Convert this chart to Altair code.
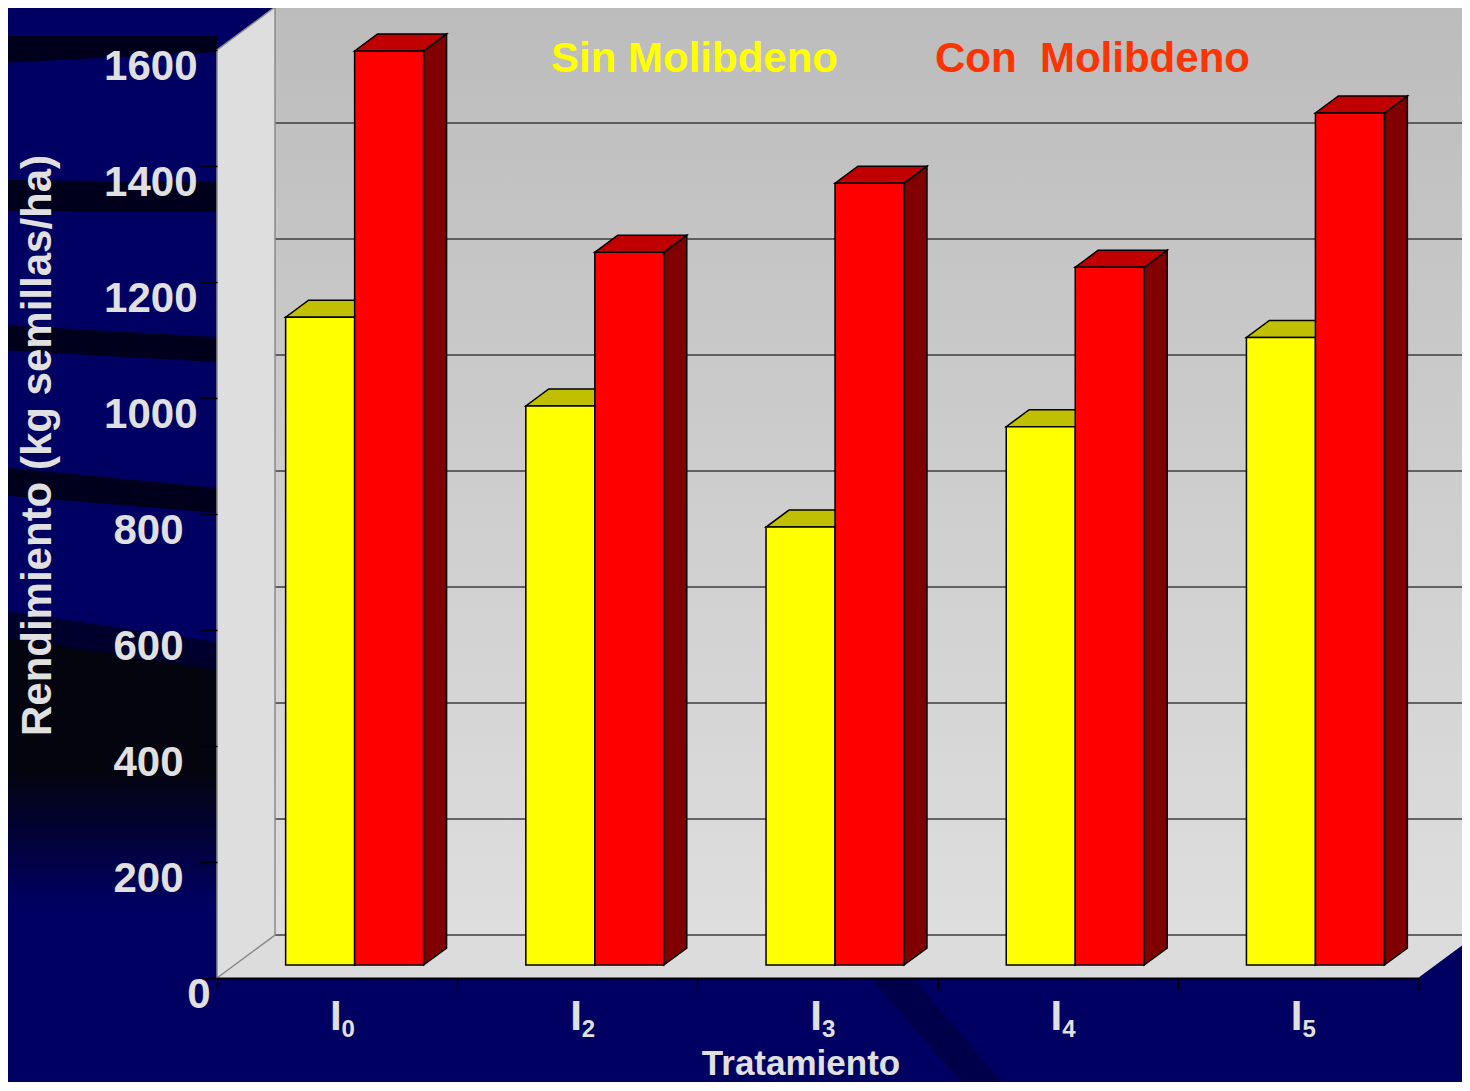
import altair as alt
import pandas as pd

# ---------------- data ----------------
tratamientos = ["I0", "I2", "I3", "I4", "I5"]
letra = ["I", "I", "I", "I", "I"]
subindice = ["0", "2", "3", "4", "5"]
sin_molibdeno = [1117, 964, 755, 928, 1082]
con_molibdeno = [1576, 1229, 1348, 1203, 1469]
marcas_y = [0, 200, 400, 600, 800, 1000, 1200, 1400, 1600]
series = ["Sin Molibdeno", "Con  Molibdeno"]

# ---------------- style / geometry ----------------
PX_U = 240.2          # pixels per category
PX_V = 0.58           # pixels per kg/ha
DX = 58 / PX_U        # full depth of the 3D box (x)
DV = 43 / PX_V        # full depth of the 3D box (y)
F_FRONT = 13 / 43     # bar front position inside the depth
F_DEPTH = 17 / 43     # bar depth
BAR_W = 69 / PX_U
BG = "#000062"
TXT = "#e0e0e0"
FONT = "Liberation Sans"
FACE = [("#ffff00", "#c0c000", "#808000"), ("#ff0000", "#c00000", "#800000")]
N = len(tratamientos)
VMAX = marcas_y[-1]


def u_(px):
    return (px - 217) / PX_U


def v_(py):
    return (978 - py) / PX_V


xs = alt.Scale(domain=[0, N], nice=False, zero=False)
ys = alt.Scale(domain=[0, VMAX], nice=False, zero=False)
xaxis = alt.Axis(values=list(range(N + 1)), labels=False, grid=False, tickSize=12,
                 tickColor="black", tickWidth=1.5, domainColor="black", domainWidth=2,
                 title="Tratamiento", titleFont=FONT, titleFontSize=35, titleFontWeight="bold",
                 titleColor=TXT, titleX=583.5, titleY=96.5, titleAlign="center",
                 titleBaseline="alphabetic", zindex=1)
yaxis = alt.Axis(values=marcas_y, format="d", grid=False, domain=False, tickSize=17,
                 tickColor="#000010", tickWidth=1.5, labelFont=FONT, labelFontSize=42,
                 labelFontWeight="bold", labelColor=TXT,
                 labelPadding={"condition": [{"test": "datum.value >= 1000", "value": 3},
                                             {"test": "datum.value == 0", "value": -10}],
                               "value": 17},
                 labelOffset=16, labelOverlap=False,
                 title="Rendimiento (kg semillas/ha)", titleFont=FONT, titleFontSize=42,
                 titleFontWeight="bold", titleColor=TXT, titleAngle=270, titleX=-167,
                 titleY=395, titleAlign="center", titleBaseline="alphabetic", zindex=1)


def X(f):
    return alt.X(f, type="quantitative", scale=xs, axis=xaxis)


def Y(f):
    return alt.Y(f, type="quantitative", scale=ys, axis=yaxis, stack=False)


# ---------------- background decoration ----------------
bandas = [
    (36, 63, 36, 52, "#00001c"),
    (180, 211, 182, 212, "#00001c"),
    (325, 350, 337, 362, "#00001c"),
    (467, 495, 488, 513, "#00001c"),
    (610, 640, 642, 670, "#00002c"),
]
band_rows = []
for b, (tl, bl, tr, br, col) in enumerate(bandas):
    band_rows.append(dict(id=b, x=u_(0), y=v_(tl), y2=v_(bl), col=col))
    band_rows.append(dict(id=b, x=u_(217), y=v_(tr), y2=v_(br), col=col))
bands = alt.Chart(pd.DataFrame(band_rows)).mark_area(strokeWidth=0).encode(
    x=X("x"), y=Y("y"), y2="y2", detail="id:N", color=alt.Color("col:N", scale=None))

shade = alt.Chart(pd.DataFrame([dict(x=u_(0), y=v_(637), y2=v_(905)),
                                dict(x=u_(217), y=v_(670), y2=v_(905))])).mark_area(
    fill=alt.Gradient(gradient="linear", x1=0, y1=0, x2=0, y2=1,
                      stops=[alt.GradientStop(offset=0, color="#04040f"),
                             alt.GradientStop(offset=0.5, color="#04040f"),
                             alt.GradientStop(offset=1, color=BG)])
).encode(x=X("x"), y=Y("y"), y2="y2")

diag = pd.DataFrame([dict(y=v_(978), x=u_(870), x2=u_(913)),
                     dict(y=v_(1095), x=u_(973), x2=u_(1013))])
diag_band = alt.Chart(diag).mark_area(orient="horizontal", color="#00004a").encode(
    y=Y("y"), x=X("x"), x2="x2")

# ---------------- 3D box ----------------
back = alt.Chart(pd.DataFrame([dict(x=DX, x2=N + DX, y=DV, y2=VMAX + DV)])).mark_rect(
    fill=alt.Gradient(gradient="linear", x1=0, y1=0, x2=0, y2=1,
                      stops=[alt.GradientStop(offset=0, color="#bcbcbc"),
                             alt.GradientStop(offset=1, color="#dedede")])
).encode(x=X("x"), x2="x2", y=Y("y"), y2="y2")

floor = alt.Chart(pd.DataFrame([
    dict(x=0, y=0, y2=0), dict(x=DX, y=0, y2=DV),
    dict(x=N, y=0, y2=DV), dict(x=N + DX, y=DV, y2=DV)])).mark_area(color="#dcdcdc").encode(
    x=X("x"), y=Y("y"), y2="y2")

grid = alt.Chart(pd.DataFrame({"g": marcas_y})).transform_calculate(
    yy=f"datum.g + {DV}", x0=f"{DX}", x1=f"{N + DX}").mark_rule(
    color="#3c3c3c", strokeWidth=1.5).encode(x=X("x0:Q"), x2="x1:Q", y=Y("yy:Q"))

left = alt.Chart(pd.DataFrame([dict(x=0, y=0, y2=VMAX), dict(x=DX, y=DV, y2=VMAX + DV)])).mark_area(
    fill="#dedede", stroke="#8a8a8a", strokeWidth=1.5).encode(x=X("x"), y=Y("y"), y2="y2")

# ---------------- bars ----------------
bar_layers = []
for s, vals in enumerate([sin_molibdeno, con_molibdeno]):
    fr, tp, sd = [], [], []
    for i, val in enumerate(vals):
        c = i + 0.5 + F_FRONT * DX
        x0 = c - BAR_W + s * BAR_W
        x1 = x0 + BAR_W
        b = F_FRONT * DV
        t = b + val
        ddx, ddv = F_DEPTH * DX, F_DEPTH * DV
        cat = tratamientos[i]
        fr.append(dict(cat=cat, x=x0, x2=x1, y=b, y2=t))
        for (xx, ya, yb) in [(x0, t, t), (x0 + ddx, t, t + ddv),
                             (x1, t, t + ddv), (x1 + ddx, t + ddv, t + ddv)]:
            tp.append(dict(cat=cat, x=xx, y=ya, y2=yb))
        sd.append(dict(cat=cat, x=x1, y=b, y2=t))
        sd.append(dict(cat=cat, x=x1 + ddx, y=b + ddv, y2=t + ddv))
    cf, ct, cs = FACE[s]
    bar_layers.append(alt.Chart(pd.DataFrame(sd)).mark_area(
        fill=cs, stroke="black", strokeWidth=1.5, strokeJoin="miter").encode(
        x=X("x"), y=Y("y"), y2="y2", detail="cat:N"))
    bar_layers.append(alt.Chart(pd.DataFrame(tp)).mark_area(
        fill=ct, stroke="black", strokeWidth=1.5, strokeJoin="miter").encode(
        x=X("x"), y=Y("y"), y2="y2", detail="cat:N"))
    bar_layers.append(alt.Chart(pd.DataFrame(fr)).mark_rect(
        fill=cf, stroke="black", strokeWidth=1.5).encode(
        x=X("x"), x2="x2", y=Y("y"), y2="y2"))

# ---------------- category labels ----------------
cats = pd.DataFrame({"x": [i + 0.5 for i in range(N)], "y": [0] * N,
                     "letra": letra, "sub": subindice})
lab_main = alt.Chart(cats).mark_text(align="right", baseline="alphabetic", dx=4.5, dy=52,
                                     font=FONT, fontSize=42, fontWeight="bold", color=TXT).encode(
    x=X("x"), y=Y("y"), text="letra:N")
lab_sub = alt.Chart(cats).mark_text(align="left", baseline="alphabetic", dx=4.5, dy=59,
                                    font=FONT, fontSize=24, fontWeight="bold", color=TXT).encode(
    x=X("x"), y=Y("y"), text="sub:N")

# ---------------- legend ----------------
leg_sin = alt.Chart(pd.DataFrame({"t": [series[0]]})).mark_text(
    align="left", baseline="alphabetic", font=FONT, fontSize=42, fontWeight="bold",
    color="#ffff00").encode(x=alt.value(334), y=alt.value(22), text="t:N")
leg_con = alt.Chart(pd.DataFrame({"t": [series[1].replace("  ", "\u00a0 ")]})).mark_text(
    align="left", baseline="alphabetic", font=FONT, fontSize=42, fontWeight="bold",
    color="#ff3300").encode(x=alt.value(718), y=alt.value(22), text="t:N")

chart = alt.layer(
    bands, shade, diag_band, back, floor, grid, left, *bar_layers,
    lab_main, lab_sub, leg_sin, leg_con
).properties(
    width=1201, height=928,
    padding={"left": 209, "top": 42, "right": 44, "bottom": 104},
    autosize=alt.AutoSizeParams(type="none"),
    background=BG,
).configure_view(strokeWidth=0)

chart.save("out.html", embed_options={"renderer": "svg", "actions": False})
